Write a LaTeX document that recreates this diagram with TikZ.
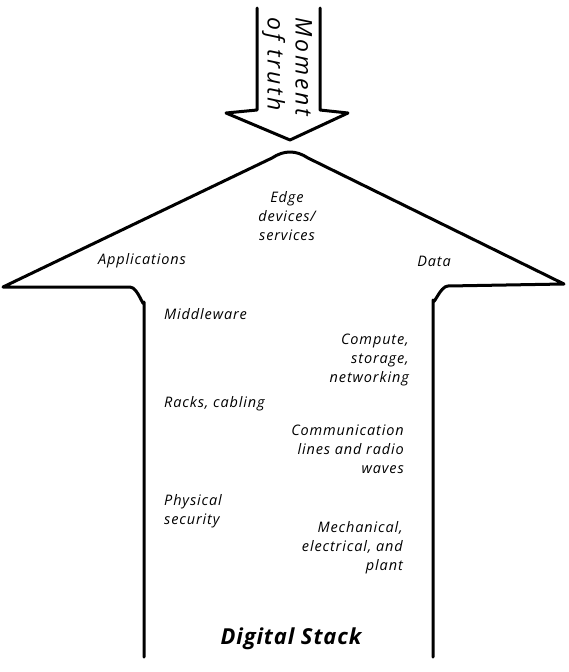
\documentclass[tikz,border=0pt]{standalone}
\usepackage{fontspec}
\setmainfont{Open Sans}
\begin{document}
\begin{tikzpicture}[x=1pt,y=-1pt,
  outline/.style={line width=3pt,line join=round,line cap=round},
  lbl/.style={font=\itshape\fontsize{14.5}{19}\selectfont\addfontfeatures{LetterSpace=6},inner sep=0pt},
  lblL/.style={lbl,align=left,anchor=west},
  lblR/.style={lbl,align=right,anchor=east}]
\useasboundingbox (0,0) rectangle (568,672);
% down arrow
\draw[outline] (257,8) -- (257,110) -- (226,113) -- (290,140) -- (348,113) -- (320,110) -- (320,8);
\node[font=\itshape\fontsize{23}{28}\selectfont\addfontfeatures{LetterSpace=12},rotate=-90,align=left,inner sep=0pt] (mot) at (287,67) {Moment\\of truth};
% big up arrow
\draw[outline] (144,657) -- (144,302) to[out=-90,in=0] (130,287) -- (3,287) -- (272,158)
  .. controls (284,150) and (296,150) .. (308,158) -- (564,284) -- (448,286) to[out=180,in=-90] (433,300) -- (433,657);
% labels
\node[lbl,align=center] (edge) at (287,216) {Edge\\devices/\\services};
\node[lbl] (apps) at (142,261) {Applications};
\node[lbl] (data) at (434,261) {Data};
\node[lblL] (mid) at (164,314) {Middleware};
\node[lblR] (comp) at (409,360) {Compute,\\storage,\\networking};
\node[lblL] (racks) at (164,404) {Racks, cabling};
\node[lblR] (comm) at (404,449) {Communication\\lines and radio\\waves};
\node[lblL] (phys) at (164,511) {Physical\\security};
\node[lblR] (mech) at (403,548) {Mechanical,\\electrical, and\\plant};
\node[font=\bfseries\itshape\fontsize{22}{26}\selectfont\addfontfeatures{LetterSpace=4},inner sep=0pt] (title) at (291,639) {Digital Stack};
\end{tikzpicture}
\end{document}
